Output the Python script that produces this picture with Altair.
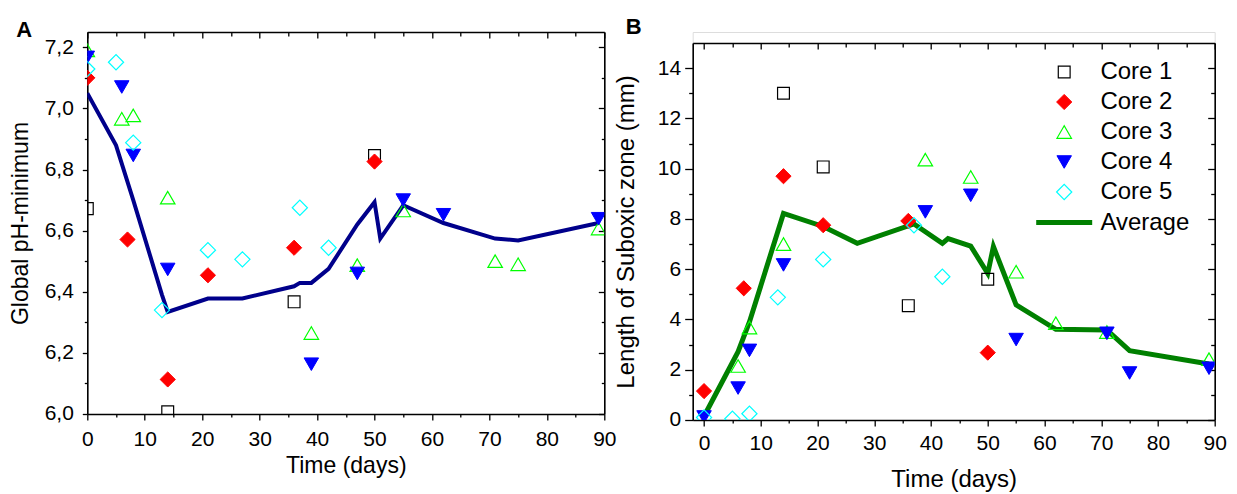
import altair as alt
import pandas as pd

FONT = "Liberation Sans"

cores = ["Core 1", "Core 2", "Core 3", "Core 4", "Core 5"]
series = cores + ["Average"]

# ---------------- Panel A : Global pH-minimum ----------------
a_days = [
    [0, 14, 36, 50],
    [0, 7, 14, 21, 36, 50],
    [0, 6, 8, 14, 39, 47, 55, 71, 75, 89],
    [0, 6, 8, 14, 39, 47, 55, 62, 89],
    [0, 5, 8, 13, 21, 27, 37, 42],
]
a_vals = [
    [6.672, 6.007, 6.367, 6.846],
    [7.10, 6.571, 6.113, 6.454, 6.544, 6.826],
    [7.19, 6.966, 6.977, 6.708, 6.265, 6.487, 6.666, 6.50, 6.49, 6.607],
    [7.167, 7.07, 6.846, 6.473, 6.163, 6.46, 6.70, 6.652, 6.639],
    [7.129, 7.151, 6.888, 6.34, 6.536, 6.506, 6.675, 6.544],
]
a_avg_days = [0, 5, 8, 13, 14, 21, 27, 36, 37, 39, 42, 47, 50, 51, 55, 62, 71, 75, 89]
a_avg_vals = [7.05, 6.879, 6.70, 6.39, 6.334, 6.378, 6.378, 6.418, 6.429, 6.429, 6.475,
              6.62, 6.693, 6.574, 6.683, 6.625, 6.574, 6.568, 6.625]

# ---------------- Panel B : Length of suboxic zone ----------------
b_days = [
    [14, 21, 36, 50],
    [0, 7, 14, 21, 36, 50],
    [6, 8, 14, 39, 47, 55, 62, 71, 89],
    [0, 6, 8, 14, 39, 47, 55, 71, 75, 89],
    [0, 5, 8, 13, 21, 37, 42],
]
b_vals = [
    [13.0, 10.07, 4.55, 5.6],
    [1.15, 5.24, 9.7, 7.75, 7.92, 2.68],
    [2.15, 3.68, 7.0, 10.36, 9.67, 5.9, 3.85, 3.5, 2.42],
    [0.12, 1.27, 2.77, 6.17, 8.28, 8.94, 3.2, 3.45, 1.87, 2.06],
    [0.1, 0.05, 0.25, 4.88, 6.39, 7.75, 5.7],
]
b_avg_days = [0, 6, 8, 14, 21, 27, 37, 42, 43, 47, 50, 51, 55, 62, 71, 75, 89]
b_avg_vals = [0.15, 2.72, 3.9, 8.22, 7.7, 7.03, 7.8, 7.03, 7.22, 6.92, 5.83, 6.9,
              4.58, 3.61, 3.58, 2.76, 2.23]

# tick values
X_MAJOR = [0, 10, 20, 30, 40, 50, 60, 70, 80, 90]
X_MINOR = [5, 15, 25, 35, 45, 55, 65, 75, 85]
A_Y_MAJOR = [6.0, 6.2, 6.4, 6.6, 6.8, 7.0, 7.2]
A_Y_MINOR = [6.1, 6.3, 6.5, 6.7, 6.9, 7.1]
B_Y_MAJOR = [0, 2, 4, 6, 8, 10, 12, 14]
B_Y_MINOR = [1, 3, 5, 7, 9, 11, 13]

# marker styling per series
shape_range = ["square", "diamond", "triangle-up", "triangle-down", "diamond", "M -2.8 0 L 2.8 0"]
fill_range = ["transparent", "#ff0000", "transparent", "#0000ff", "transparent", "transparent"]
size_range = [140, 230, 210, 210, 230, 400]
a_stroke_range = ["#000000", "#ff0000", "#00ff00", "#0000ff", "#00ffff", "#00008b"]
b_stroke_range = ["#000000", "#ff0000", "#00ff00", "#0000ff", "#00ffff", "#008000"]
a_sw_range = [1.2, 1, 1.2, 1, 1.2, 4]
b_sw_range = [1.2, 1, 1.2, 1, 1.2, 5]


def points_frame(days, vals):
    rows = []
    for name, d, v in zip(cores, days, vals):
        for di, vi in zip(d, v):
            rows.append({"Day": di, "Value": vi, "Core": name})
    return pd.DataFrame(rows)


def avg_frame(days, vals):
    return pd.DataFrame({"Day": days, "Value": vals, "Core": ["Average"] * len(days)})


def ax(**kw):
    base = dict(grid=False, labelFont=FONT, titleFont=FONT, labelColor="black",
                titleColor="black", tickColor="black", tickWidth=1.3, domain=False,
                domainColor="black", domainWidth=1.6,
                labelFlush=False, labelOverlap=False, titleFontWeight="normal")
    base.update(kw)
    return alt.Axis(**base)


def panel(pts, avg, xdom, ydom, yrange, W, H, axes, stroke_range, sw_range, legend, title):
    xs = alt.Scale(domain=xdom, nice=False, zero=False)
    ys = alt.Scale(domain=ydom, range=yrange, nice=False, zero=False)

    def xy(xa, ya):
        return dict(x=alt.X("Day:Q", scale=xs, axis=xa),
                    y=alt.Y("Value:Q", scale=ys, axis=ya))

    style = dict(
        shape=alt.Shape("Core:N", scale=alt.Scale(domain=series, range=shape_range), legend=legend),
        fill=alt.Fill("Core:N", scale=alt.Scale(domain=series, range=fill_range), legend=legend),
        stroke=alt.Stroke("Core:N", scale=alt.Scale(domain=series, range=stroke_range), legend=legend),
        strokeWidth=alt.StrokeWidth("Core:N", scale=alt.Scale(type="ordinal", domain=series, range=sw_range), legend=legend),
        size=alt.Size("Core:N", scale=alt.Scale(type="ordinal", domain=series, range=size_range), legend=legend),
    )

    line = alt.Chart(avg).mark_line(clip=True).encode(
        stroke=style["stroke"], strokeWidth=style["strokeWidth"],
        **xy(axes["x_minor"], axes["y_minor"]))
    pts_layer = alt.Chart(pts).mark_point(clip=True, opacity=1).encode(
        **style, **xy(axes["x_major"], axes["y_major"]))
    mirror_major = alt.Chart(avg).mark_line(opacity=0).encode(
        **xy(axes["x_top_major"], axes["y_right_major"]))
    mirror_minor = alt.Chart(avg).mark_line(opacity=0).encode(
        **xy(axes["x_top_minor"], axes["y_right_minor"]))

    return alt.layer(line, pts_layer, mirror_major, mirror_minor).resolve_axis(
        x="independent", y="independent").properties(width=W, height=H, title=title)


# panel A plot box
A_W, A_H = 517, 382
# panel B: group is taller, the plot box starts B_TOP px below the group top
B_W, B_H = 522, 388
B_TOP = 11

a_axes = dict(
    x_major=ax(orient="bottom", values=X_MAJOR, tickSize=6, labelFontSize=21, labelPadding=9,
               title="Time (days)", titleFontSize=23, titlePadding=8, minExtent=33, maxExtent=33,
               domain=True),
    y_major=ax(orient="left", values=A_Y_MAJOR, tickSize=5, labelFontSize=21, labelPadding=9,
               labelExpr="replace(format(datum.value, '.1f'), '.', ',')",
               title="Global pH-minimum", titleFontSize=23, titlePadding=12, minExtent=43, maxExtent=43,
               domain=True),
    x_minor=ax(orient="bottom", values=X_MINOR, tickSize=3, labels=False, title=None),
    y_minor=ax(orient="left", values=A_Y_MINOR, tickSize=3, labels=False, title=None),
    x_top_major=ax(orient="bottom", offset=-A_H, values=X_MAJOR, tickSize=6, labels=False, title=None,
                   domain=True),
    x_top_minor=ax(orient="bottom", offset=-A_H, values=X_MINOR, tickSize=4, labels=False, title=None),
    y_right_major=ax(orient="left", offset=-A_W, values=A_Y_MAJOR, tickSize=6, labels=False, title=None,
                     domain=True),
    y_right_minor=ax(orient="left", offset=-A_W, values=A_Y_MINOR, tickSize=3, labels=False, title=None),
)

b_axes = dict(
    x_major=ax(orient="bottom", values=X_MAJOR, tickSize=6, labelFontSize=21, labelPadding=7,
               title="Time (days)", titleFontSize=24, titlePadding=12, minExtent=36, maxExtent=36,
               domain=True),
    y_major=ax(orient="left", values=B_Y_MAJOR, tickSize=8, labelFontSize=21, labelPadding=4,
               title="Length of Suboxic zone (mm)", titleFontSize=24, titlePadding=17, minExtent=37, maxExtent=37,
               domain=True),
    x_minor=ax(orient="bottom", values=X_MINOR, tickSize=3, labels=False, title=None),
    y_minor=ax(orient="left", values=B_Y_MINOR, tickSize=4, labels=False, title=None),
    x_top_major=ax(orient="bottom", offset=-(B_H - B_TOP), values=X_MAJOR, tickSize=6, labels=False,
                   title=None, domain=True),
    x_top_minor=ax(orient="bottom", offset=-(B_H - B_TOP), values=X_MINOR, tickSize=4, labels=False, title=None),
    y_right_major=ax(orient="left", offset=-B_W, values=B_Y_MAJOR, tickSize=7, labels=False, title=None,
                     domain=True),
    y_right_minor=ax(orient="left", offset=-B_W, values=B_Y_MINOR, tickSize=4, labels=False, title=None),
)

b_legend = alt.Legend(orient="none", legendX=359, legendY=28, title=None, labelFont=FONT,
                      labelFontSize=24, labelColor="black", padding=0, rowPadding=6,
                      labelOffset=23.7, symbolOffset=0)

title_a = alt.TitleParams(text="A", anchor="start", frame="group", font=FONT, fontSize=22,
                          fontWeight="bold", color="black", dx=-71, offset=-28, baseline="alphabetic")
title_b = alt.TitleParams(text="B", anchor="start", frame="group", font=FONT, fontSize=22,
                          fontWeight="bold", color="black", dx=-67, offset=-24, baseline="alphabetic")

panel_a = panel(points_frame(a_days, a_vals), avg_frame(a_avg_days, a_avg_vals), [0, 90], [6.0, 7.25],
                [A_H, 0], A_W, A_H, a_axes, a_stroke_range, a_sw_range, None, title_a)
panel_b = panel(points_frame(b_days, b_vals), avg_frame(b_avg_days, b_avg_vals), [-2, 90], [0, 15],
                [B_H, B_TOP], B_W, B_H, b_axes, b_stroke_range, b_sw_range, b_legend, title_b)

chart = alt.ConcatChart(concat=[panel_a, panel_b], columns=2, spacing=-3.6).resolve_scale(
    x="independent", y="independent", shape="independent", fill="independent",
    stroke="independent", strokeWidth="independent", size="independent"
).properties(
    padding={"left": 8.3, "top": 15, "right": 0, "bottom": 0}
).configure_view(strokeOpacity=0).configure(background="white")

chart.save("out.html", embed_options={"renderer": "svg", "actions": False})
